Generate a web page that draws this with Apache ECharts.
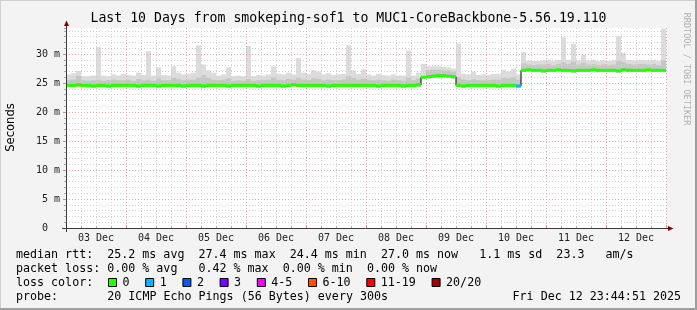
<!DOCTYPE html>
<html><head><meta charset="utf-8">
<script src="https://cdn.jsdelivr.net/npm/echarts@6/dist/echarts.min.js"></script>
<style>html,body{margin:0;padding:0;background:#f3f3f3}#c{width:697px;height:310px}</style>
</head><body><div id="c"></div>
<script>
// ---------------- data ----------------
const titleText = 'Last 10 Days from smokeping-sof1 to MUC1-CoreBackbone-5.56.19.110';
const dayLabels = ['03 Dec','04 Dec','05 Dec','06 Dec','07 Dec','08 Dec','09 Dec','10 Dec','11 Dec','12 Dec'];
const yMaxMs = 34.5;
const bucketHours = 2; // each value covers 2 hours, hour 0 = 03 Dec 00:00
// median rtt (ms) per bucket
const median = [
 24.6,24.6,24.7,24.6,24.6,24.5,24.6,24.6,24.5,24.6,24.6,24.6,
 24.6,24.6,24.5,24.6,24.6,24.6,24.5,24.6,24.6,24.6,24.6,24.5,
 24.6,24.6,24.6,24.5,24.6,24.6,24.6,24.6,24.5,24.6,24.6,24.6,
 24.6,24.6,24.5,24.6,24.6,24.6,24.6,24.5,24.6,24.7,24.6,24.6,
 24.6,24.6,24.6,24.6,24.5,24.6,24.6,24.6,24.6,24.6,24.6,24.6,
 24.6,24.6,24.5,24.6,24.6,24.6,24.6,24.5,24.6,24.6,24.7,26.0,
 26.1,26.2,26.3,26.3,26.2,26.1,24.6,24.5,24.6,24.6,24.6,24.6,
 24.6,24.6,24.5,24.6,24.6,24.6,24.5,27.2,27.3,27.2,27.2,27.1,
 27.2,27.2,27.3,27.2,27.2,27.1,27.2,27.2,27.2,27.3,27.2,27.2,
 27.2,27.2,27.1,27.3,27.2,27.2,27.2,27.2,27.3,27.2,27.2,27.2
];
// highest ping per bucket (ms)
const smokeHi = [
 26.5,26.7,27.1,26.2,26.2,26.3,31.2,26.3,26.2,26.5,26.3,26.6,26.4,26.3,26.8,26.4,30.5,26.3,27.7,26.4,26.3,27.9,26.8,26.5,26.6,26.8,31.5,28.2,27.2,26.8,
 26.3,26.5,27.7,26.2,26.3,26.2,31.4,26.2,26.4,26.3,26.5,27.9,26.6,26.5,26.8,26.5,29.3,26.8,26.6,27.2,27.0,26.5,26.7,26.4,26.5,26.6,31.5,27.2,26.6,27.4,
 26.5,26.3,26.6,26.4,26.3,26.5,26.3,26.3,30.6,26.3,26.8,28.3,27.9,27.9,27.9,27.8,27.7,27.5,31.8,26.6,26.5,27.0,26.4,26.5,26.4,26.6,26.6,27.3,27.0,27.5,
 26.5,30.4,28.9,28.8,28.8,28.9,29.0,28.8,29.0,32.9,29.0,31.8,28.9,29.9,28.9,29.0,28.8,28.9,28.8,28.9,33.1,30.2,29.0,28.9,29.0,29.0,28.9,29.0,28.8,34.4
];
// upper edge of the denser smoke (ms)
const smokeUp = [
 25.5,25.6,26.3,25.5,25.4,25.5,25.6,25.4,25.5,25.6,25.5,25.5,25.6,25.4,25.7,25.5,25.6,25.4,25.8,25.5,25.5,25.9,25.7,25.5,25.6,25.6,26.0,26.4,25.9,25.6,
 25.5,25.6,25.8,25.4,25.5,25.4,25.7,25.4,25.5,25.5,25.6,26.0,25.6,25.5,25.7,25.6,25.9,25.6,25.5,25.8,25.7,25.5,25.6,25.5,25.5,25.6,26.2,25.9,25.6,25.8,
 25.6,25.5,25.6,25.5,25.4,25.6,25.5,25.4,25.9,25.5,25.8,26.2,27.2,27.3,27.3,27.2,27.2,27.0,26.0,25.6,25.5,25.7,25.5,25.5,25.5,25.6,25.6,25.9,25.8,26.0,
 25.6,28.4,28.2,28.1,28.2,28.2,28.3,28.1,28.3,28.6,28.3,28.7,28.2,28.5,28.2,28.3,28.1,28.2,28.1,28.2,28.8,28.6,28.3,28.2,28.3,28.3,28.2,28.3,28.1,28.9
];
// lowest ping per bucket (ms)
const smokeLo = [
 24.3,24.3,24.3,24.3,24.2,24.2,24.3,24.3,24.2,24.3,24.3,24.3,24.3,24.3,24.2,24.3,24.3,24.3,24.2,24.3,24.3,24.3,24.3,24.2,24.3,24.3,24.3,24.2,24.3,24.3,
 24.3,24.3,24.2,24.3,24.3,24.3,24.3,24.3,24.2,24.3,24.3,24.3,24.3,24.2,24.3,24.4,24.3,24.3,24.3,24.3,24.3,24.3,24.2,24.3,24.3,24.3,24.3,24.3,24.3,24.3,
 24.3,24.3,24.2,24.3,24.3,24.3,24.3,24.2,24.3,24.3,24.4,25.8,25.8,25.9,26.0,26.0,25.9,25.8,24.3,24.2,24.3,24.3,24.3,24.3,24.3,24.3,24.2,24.3,24.3,24.3,
 24.2,26.9,27.0,26.9,26.9,26.8,26.9,26.9,27.0,26.9,26.9,26.8,26.9,26.9,26.9,27.0,26.9,26.9,26.9,26.9,26.8,27.0,26.9,26.9,26.9,26.9,27.0,26.9,26.9,26.9
];
// lost pings (of 20) per bucket
const lossPings = [
 0,0,0,0,0,0,0,0,0,0,0,0,0,0,0,0,0,0,0,0,0,0,0,0,0,0,0,0,0,0,
 0,0,0,0,0,0,0,0,0,0,0,0,0,0,0,0,0,0,0,0,0,0,0,0,0,0,0,0,0,0,
 0,0,0,0,0,0,0,0,0,0,0,0,0,0,0,0,0,0,0,0,0,0,0,0,0,0,0,0,0,0,
 1,0,0,0,0,0,0,0,0,0,0,0,0,0,0,0,0,0,0,0,0,0,0,0,0,0,0,0,0,0
];
const lossLabels = ['0','1','2','3','4-5','6-10','11-19','20/20'];
const lossColors = ['#26ff00','#00b8ff','#0059ff','#7e00ff','#ff00ff','#ff5500','#ff0000','#a10000'];
const legendLine1 = 'median rtt:  25.2 ms avg  27.4 ms max  24.4 ms min  27.0 ms now   1.1 ms sd  23.3   am/s';
const legendLine2 = 'packet loss: 0.00 % avg   0.42 % max  0.00 % min  0.00 % now';
const legendLine3 = 'loss color:';
const probeLabel = 'probe:';
const probeText = '20 ICMP Echo Pings (56 Bytes) every 300s';
const dateText = 'Fri Dec 12 23:44:51 2025';
const watermark = 'RRDTOOL / TOBI OETIKER';

// ---------------- chart ----------------
const MONO = '"DejaVu Sans Mono", monospace';
const chart = echarts.init(document.getElementById('c'), null, {renderer: 'canvas'});

function lossClass(n) {
  if (n <= 3) return n;
  if (n <= 5) return 4;
  if (n <= 10) return 5;
  if (n <= 19) return 6;
  return 7;
}

function bandSeries(lowArr, highArr, color, z) {
  return {
    type: 'custom', xAxisIndex: 0, yAxisIndex: 0, z: z, silent: true, clip: true,
    data: lowArr.map((lo, i) => [i * bucketHours, (i + 1) * bucketHours, lo, highArr[i]]),
    encode: {x: [0, 1], y: [2, 3]},
    renderItem(params, api) {
      const a = api.coord([api.value(0), api.value(3)]);
      const b = api.coord([api.value(1), api.value(2)]);
      return {type: 'rect', shape: {x: a[0], y: a[1], width: b[0] - a[0], height: b[1] - a[1]},
              style: {fill: color}};
    }
  };
}

const stepPts = [];
median.forEach((m, i) => { stepPts.push([i * bucketHours, m]); stepPts.push([(i + 1) * bucketHours, m]); });

const medianBand = {
  type: 'custom', xAxisIndex: 0, yAxisIndex: 0, z: 6, silent: true, clip: true,
  data: median.map((m, i) => [i * bucketHours, (i + 1) * bucketHours, m, lossPings[i]]),
  encode: {x: [0, 1], y: 2},
  renderItem(params, api) {
    const a = api.coord([api.value(0), api.value(2)]);
    const b = api.coord([api.value(1), api.value(2)]);
    return {type: 'rect', shape: {x: a[0], y: a[1] - 1.5, width: b[0] - a[0], height: 3},
            style: {fill: lossColors[lossClass(api.value(3))]}};
  }
};

const gridDot = {color: '#d2d2d2', type: [1, 2], width: 1};
const majorDot = {color: '#f4a4a4', type: [1, 2], width: 1};
const axisFont = {fontFamily: MONO, fontSize: 10, color: '#222'};

// legend graphics
const graphics = [];
// frame
graphics.push({type: 'rect', shape: {x: 0, y: 0, width: 697, height: 1}, style: {fill: '#d0d0d0'}, z: 100});
graphics.push({type: 'rect', shape: {x: 0, y: 0, width: 1, height: 310}, style: {fill: '#d0d0d0'}, z: 100});
graphics.push({type: 'rect', shape: {x: 695, y: 0, width: 2, height: 310}, style: {fill: '#9e9e9e'}, z: 100});
graphics.push({type: 'rect', shape: {x: 0, y: 308, width: 697, height: 2}, style: {fill: '#9e9e9e'}, z: 100});
// title
graphics.push({type: 'text', x: 348.5, y: 19, z: 100,
  style: {text: titleText, font: '13.2px ' + MONO, fill: '#000', align: 'center', verticalAlign: 'middle'}});
// unit label
graphics.push({type: 'text', x: 10.5, y: 127.5, rotation: Math.PI / 2, z: 100,
  style: {text: 'Seconds', font: '11.6px "DejaVu Sans", sans-serif', fill: '#000', align: 'center', verticalAlign: 'middle'}});
// watermark
graphics.push({type: 'text', x: 686.5, y: 69, rotation: -Math.PI / 2, z: 100,
  style: {text: watermark, font: '8.5px ' + MONO, fill: '#b0b0b0', align: 'center', verticalAlign: 'middle'}});
// axes lines with arrows
graphics.push({type: 'line', shape: {x1: 62, y1: 228.5, x2: 669, y2: 228.5}, style: {stroke: '#3a3a3a', lineWidth: 1}, z: 50});
graphics.push({type: 'line', shape: {x1: 66.5, y1: 232, x2: 66.5, y2: 25}, style: {stroke: '#3a3a3a', lineWidth: 1}, z: 50});
graphics.push({type: 'polygon', shape: {points: [[668, 226], [673.5, 228.5], [668, 231]]}, style: {fill: '#7f0000'}, z: 51});
graphics.push({type: 'polygon', shape: {points: [[64, 26], [66.5, 20.5], [69, 26]]}, style: {fill: '#7f0000'}, z: 51});
// legend text
const LF = '11.66px ' + MONO;
const lineY = [254.5, 268.5, 282.5, 296.5];
graphics.push({type: 'text', x: 16, y: lineY[0], z: 100, style: {text: legendLine1, font: LF, fill: '#000', verticalAlign: 'middle'}});
graphics.push({type: 'text', x: 16, y: lineY[1], z: 100, style: {text: legendLine2, font: LF, fill: '#000', verticalAlign: 'middle'}});
graphics.push({type: 'text', x: 16, y: lineY[2], z: 100, style: {text: legendLine3, font: LF, fill: '#000', verticalAlign: 'middle'}});
let bx = 108;
lossLabels.forEach((lab, i) => {
  graphics.push({type: 'rect', shape: {x: bx + 0.5, y: lineY[2] - 4, width: 8, height: 8}, z: 100,
    style: {fill: lossColors[i], stroke: '#000', lineWidth: 1}});
  graphics.push({type: 'text', x: bx + 14.5, y: lineY[2], z: 100, style: {text: lab, font: LF, fill: '#000', verticalAlign: 'middle'}});
  bx += 37.2 + (lab.length - 1) * 7.02;
});
graphics.push({type: 'text', x: 16, y: lineY[3], z: 100, style: {text: probeLabel, font: LF, fill: '#000', verticalAlign: 'middle'}});
graphics.push({type: 'text', x: 107.3, y: lineY[3], z: 100, style: {text: probeText, font: LF, fill: '#000', verticalAlign: 'middle'}});
graphics.push({type: 'text', x: 681, y: lineY[3], z: 100, style: {text: dateText, font: LF, fill: '#000', align: 'right', verticalAlign: 'middle'}});

const option = {
  animation: false,
  backgroundColor: '#f3f3f3',
  grid: {left: 66, top: 28, width: 600, height: 200, show: true, backgroundColor: '#ffffff', borderWidth: 0},
  xAxis: [
    {type: 'value', position: 'bottom', min: 0, max: 240, interval: 6, z: 3,
     axisLine: {show: false},
     axisTick: {show: true, inside: true, length: 2, lineStyle: {color: '#aaaaaa'}},
     axisLabel: {show: true, margin: 5, ...axisFont,
       formatter: v => (v % 24 === 12 ? dayLabels[(v - 12) / 24] : '')},
     splitLine: {show: true, lineStyle: gridDot}},
    {type: 'value', position: 'bottom', min: 0, max: 240, interval: 24, z: 4,
     axisLine: {show: false}, axisLabel: {show: false},
     axisTick: {show: true, inside: true, length: 3, lineStyle: {color: '#f08080'}},
     splitLine: {show: true, lineStyle: majorDot}}
  ],
  yAxis: [
    {type: 'value', position: 'left', min: 0, max: yMaxMs, interval: 1, z: 3,
     axisLine: {show: false}, axisLabel: {show: false},
     axisTick: {show: true, length: 2, lineStyle: {color: '#aaaaaa'}},
     splitLine: {show: true, showMaxLine: false, lineStyle: gridDot}},
    {type: 'value', position: 'left', min: 0, max: yMaxMs, interval: 5, z: 4,
     axisLine: {show: false},
     axisTick: {show: true, length: 3, lineStyle: {color: '#f08080'}},
     axisLabel: {show: true, margin: 6, showMaxLabel: false, ...axisFont,
       formatter: v => (v === 0 ? '0  ' : v + ' m')},
     splitLine: {show: true, showMaxLine: false, lineStyle: majorDot}}
  ],
  series: [
    bandSeries(smokeLo, smokeHi, '#dcdcdc', 1),
    bandSeries(smokeLo, smokeUp, '#c6c6c6', 1),
    {type: 'line', xAxisIndex: 0, yAxisIndex: 0, z: 5, data: stepPts, showSymbol: false, symbol: 'none',
     silent: true, lineStyle: {color: '#000', width: 1}},
    medianBand
  ],
  graphic: {elements: graphics}
};
chart.setOption(option);
</script></body></html>
